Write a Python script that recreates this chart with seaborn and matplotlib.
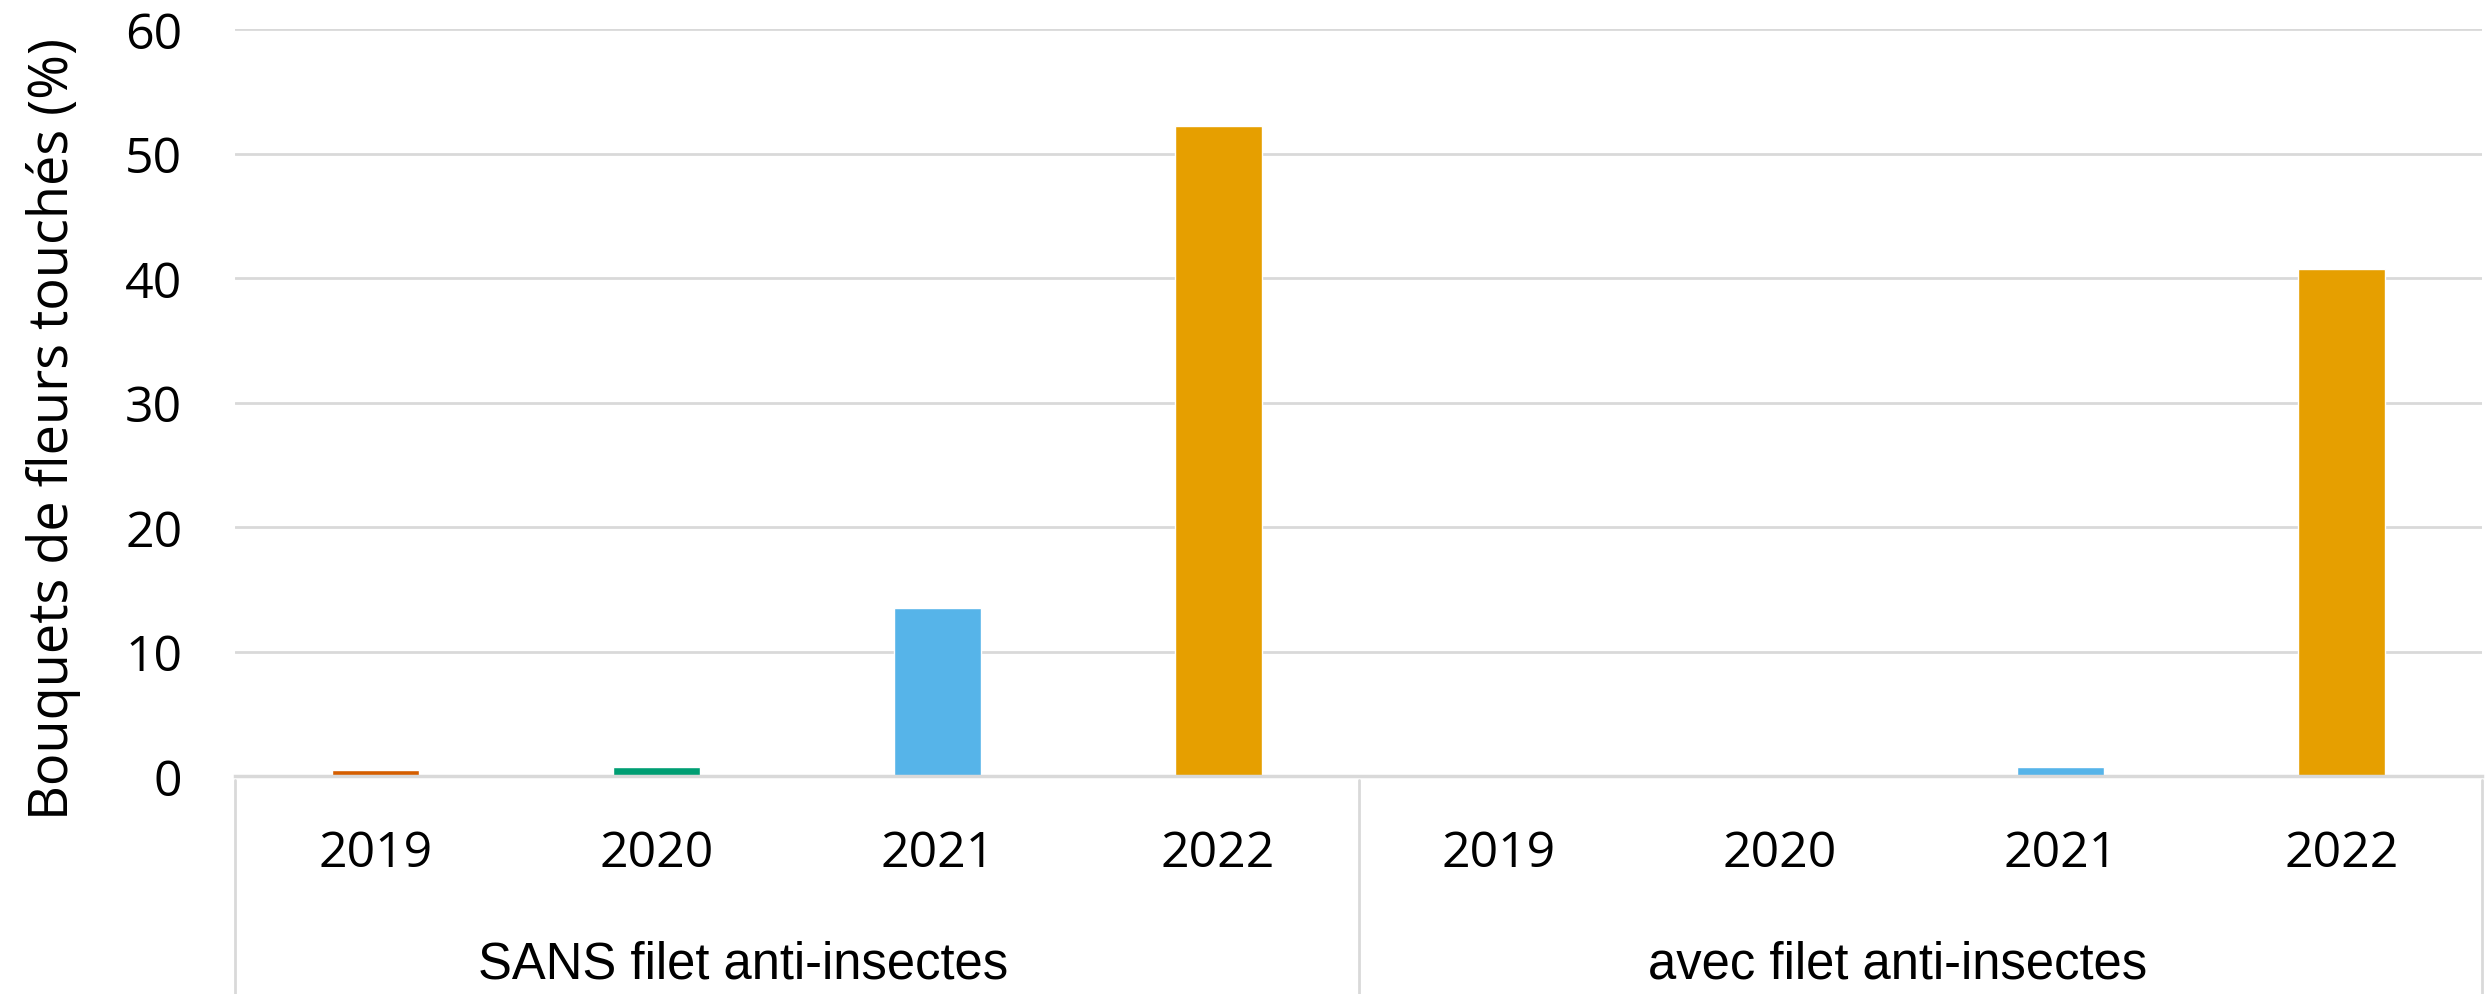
import matplotlib
matplotlib.use("Agg")
import matplotlib.pyplot as plt
from matplotlib.transforms import blended_transform_factory
import seaborn as sns
import pandas as pd

# Data: share of flower bunches affected, by net treatment and year
groups = ["SANS filet anti-insectes", "avec filet anti-insectes"]
years = ["2019", "2020", "2021", "2022"]
sans_filet = [0.5, 0.7, 13.5, 52.2]
avec_filet = [0.0, 0.0, 0.7, 40.7]
year_colors = ["#D55E00", "#009E73", "#56B4E9", "#E69F00"]

ylabel = "Bouquets de fleurs touchés (%)"
yticks = [0, 10, 20, 30, 40, 50, 60]

rows = []
for g, vals in zip(groups, [sans_filet, avec_filet]):
    for y, v in zip(years, vals):
        rows.append({"cat": f"{g}|{y}", "group": g, "year": y, "value": v})
df = pd.DataFrame(rows)

sns.set_theme(style="white")
plt.rcParams["font.family"] = ["Open Sans", "DejaVu Sans"]
plt.rcParams["text.color"] = "black"
plt.rcParams["xtick.labelcolor"] = "black"
plt.rcParams["ytick.labelcolor"] = "black"

W, H, DPI = 2487, 995, 100
fig = plt.figure(figsize=(W / DPI, H / DPI), dpi=DPI)
left, right = 235 / W, 2482 / W
bottom, top = 1 - 777 / H, 1 - 30 / H
ax = fig.add_axes([left, bottom, right - left, top - bottom])

sns.barplot(data=df, x="cat", y="value", hue="year",
            palette=dict(zip(years, year_colors)), dodge=False,
            width=0.31, saturation=1, legend=False, ax=ax)

ax.set_xlim(-0.5, len(df) - 0.5)
ax.set_ylim(0, 60)
ax.set_yticks(yticks)
ax.set_yticklabels([str(t) for t in yticks], fontsize=36)
ax.set_xticks(range(len(df)))
ax.set_xticklabels(df["year"].tolist(), fontsize=36)
ax.tick_params(axis="x", length=0, pad=38)
ax.tick_params(axis="y", length=0, pad=38)

ax.set_xlabel("")
ax.set_ylabel("")
fig.text(68 / W, 1 - 429 / H, ylabel, rotation=90, rotation_mode="anchor",
         ha="center", va="baseline", fontsize=39)

ax.yaxis.grid(True, color="#D9D9D9", linewidth=2)
ax.set_axisbelow(True)
for s in ["left", "right", "top"]:
    ax.spines[s].set_visible(False)
ax.spines["bottom"].set_color("#D9D9D9")
ax.spines["bottom"].set_linewidth(2.5)

# Group separators and group labels below the year ticks
trans = blended_transform_factory(ax.transData, fig.transFigure)
for xpos in [-0.5, 3.5, 7.5]:
    ax.plot([xpos, xpos], [0.0, bottom - 0.004], transform=trans,
            color="#D9D9D9", linewidth=2, clip_on=False)
label_shift = [-0.19, -0.08]
for i, g in enumerate(groups):
    ax.text(1.5 + 4 * i + label_shift[i], 1 - 979 / H, g, transform=trans,
            ha="center", va="baseline", fontsize=36.5,
            family=["Liberation Sans", "DejaVu Sans"])

fig.savefig("out.png", dpi=DPI, facecolor="white")
